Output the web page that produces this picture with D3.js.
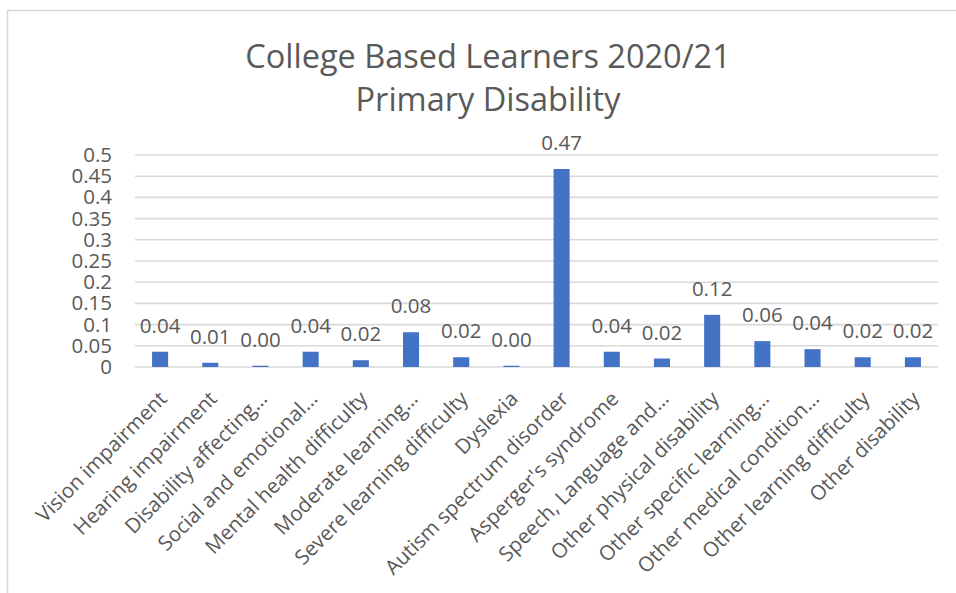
<!DOCTYPE html>
<html>
<head>
<meta charset="utf-8">
<script src="https://cdn.jsdelivr.net/npm/d3@7"></script>
<style>
  html, body { margin: 0; padding: 0; background: #fff; }
  svg { display: block; }
  text { font-family: "Open Sans", "Liberation Sans", sans-serif; fill: #595959; }
</style>
</head>
<body>
<svg id="chart" width="956" height="593"></svg>
<script>
// Categories (axis labels as shown, long names shortened with an ellipsis)
const categories = [
  "Vision impairment",
  "Hearing impairment",
  "Disability affecting…",
  "Social and emotional…",
  "Mental health difficulty",
  "Moderate learning…",
  "Severe learning difficulty",
  "Dyslexia",
  "Autism spectrum disorder",
  "Asperger's syndrome",
  "Speech, Language and…",
  "Other physical disability",
  "Other specific learning…",
  "Other medical condition…",
  "Other learning difficulty",
  "Other disability"
];

// Share of learners per primary disability
const shares = [
  0.036, 0.010, 0.003, 0.036, 0.016, 0.082, 0.023, 0.003,
  0.467, 0.036, 0.020, 0.123, 0.061, 0.042, 0.023, 0.023
];

// Value axis ticks
const yTicks = [0, 0.05, 0.1, 0.15, 0.2, 0.25, 0.3, 0.35, 0.4, 0.45, 0.5];
const yTickLabels = ["0", "0.05", "0.1", "0.15", "0.2", "0.25", "0.3", "0.35", "0.4", "0.45", "0.5"];

const titleLines = ["College Based Learners 2020/21", "Primary Disability"];

const svg = d3.select("#chart");
const W = 956, H = 593;
const labelSize = 20.5;

// Chart frame
svg.append("rect")
  .attr("x", 7.5).attr("y", 10.5)
  .attr("width", W).attr("height", H)
  .attr("fill", "#fff")
  .attr("stroke", "#d9d9d9")
  .attr("stroke-width", 1.5);

const plot = { left: 135, right: 938, top: 155, bottom: 367 };

const x = d3.scaleBand()
  .domain(categories)
  .range([plot.left, plot.right])
  .paddingInner(0.68)
  .paddingOuter(0.34);

const y = d3.scaleLinear()
  .domain([0, 0.5])
  .range([plot.bottom, plot.top]);

// Title
svg.append("g")
  .selectAll("text")
  .data(titleLines)
  .join("text")
  .attr("x", 488)
  .attr("y", (d, i) => 68 + i * 43)
  .attr("text-anchor", "middle")
  .attr("font-size", 32.5)
  .text(d => d);

// Gridlines
svg.append("g")
  .selectAll("line")
  .data(yTicks)
  .join("line")
  .attr("x1", plot.left)
  .attr("x2", plot.right)
  .attr("y1", d => y(d))
  .attr("y2", d => y(d))
  .attr("stroke", "#d9d9d9")
  .attr("stroke-width", 1.6);

// Value axis
const yAxis = d3.axisLeft(y)
  .tickValues(yTicks)
  .tickFormat((d, i) => yTickLabels[i])
  .tickSize(0)
  .tickPadding(0);

const yg = svg.append("g")
  .attr("transform", `translate(112,0)`)
  .call(yAxis);
yg.select(".domain").remove();
yg.selectAll("text")
  .attr("font-size", labelSize)
  .attr("fill", "#595959")
  .attr("font-family", "\"Open Sans\", sans-serif")
  .attr("dy", "0.32em");

// Bars
svg.append("g")
  .selectAll("rect")
  .data(shares)
  .join("rect")
  .attr("x", (d, i) => x(categories[i]))
  .attr("y", d => y(d))
  .attr("width", x.bandwidth())
  .attr("height", d => y(0) - y(d))
  .attr("fill", "#4472c4");

// Data labels
const fmt = d3.format(".2f");
svg.append("g")
  .selectAll("text")
  .data(shares)
  .join("text")
  .attr("x", (d, i) => x(categories[i]) + x.bandwidth() / 2)
  .attr("y", d => y(d) - 19)
  .attr("text-anchor", "middle")
  .attr("font-size", labelSize)
  .text(d => fmt(d));

// Category axis, labels rotated 45 degrees
const xAxis = d3.axisBottom(x).tickSize(0).tickPadding(0);
const xg = svg.append("g")
  .attr("transform", `translate(0,${plot.bottom})`)
  .call(xAxis);
xg.select(".domain").remove();
xg.selectAll("text")
  .attr("font-size", labelSize)
  .attr("fill", "#595959")
  .attr("font-family", "\"Open Sans\", sans-serif")
  .attr("text-anchor", "end")
  .attr("x", 0).attr("y", 0).attr("dy", 0)
  .attr("transform", "translate(8,33) rotate(-45)");
</script>
</body>
</html>
